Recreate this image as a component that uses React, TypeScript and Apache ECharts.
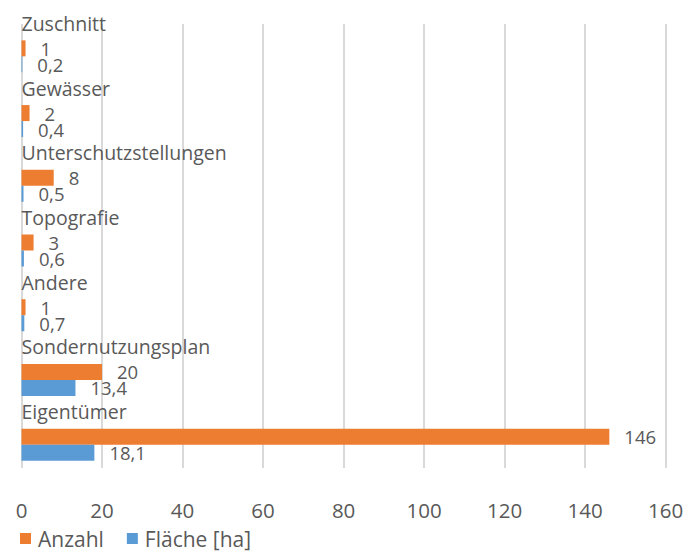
import React, { useEffect, useRef } from "react";
import * as echarts from "echarts";

const categories = [
  "Zuschnitt",
  "Gewässer",
  "Unterschutzstellungen",
  "Topografie",
  "Andere",
  "Sondernutzungsplan",
  "Eigentümer",
];
const anzahl = [1, 2, 8, 3, 1, 20, 146];
const flaeche = [0.2, 0.4, 0.5, 0.6, 0.7, 13.4, 18.1];
const xTicks = { min: 0, max: 160, interval: 20 };

const FONT = "'Open Sans', 'Noto Sans', sans-serif";
const TEXT = "#595959";
const ORANGE = "#ED7D31";
const BLUE = "#5B9BD5";

const fmt = (v: number) => String(v).replace(".", ",");

export default function App() {
  const ref = useRef<HTMLDivElement>(null);

  useEffect(() => {
    if (!ref.current) return;
    const chart = echarts.init(ref.current, undefined, { renderer: "svg" });

    const valueLabel = {
      show: true,
      position: "right" as const,
      distance: 15,
      color: TEXT,
      fontFamily: FONT,
      fontSize: 18.5,
      formatter: (p: any) => fmt(p.value),
    };

    chart.setOption({
      animation: false,
      backgroundColor: "#ffffff",
      textStyle: { fontFamily: FONT },
      grid: [
        // bars
        {
          left: 21.5,
          right: 24.3,
          top: 24,
          height: 453,
          containLabel: false,
          outerBoundsMode: "none",
        },
        // gridlines and tick labels
        {
          left: 21.5,
          right: 24.3,
          top: 24,
          height: 444,
          containLabel: false,
          outerBoundsMode: "none",
        },
      ],
      xAxis: [
        {
          type: "value",
          gridIndex: 0,
          ...xTicks,
          show: false,
          splitLine: { show: false },
        },
        {
          type: "value",
          gridIndex: 1,
          ...xTicks,
          axisLine: { show: false },
          axisTick: { show: false },
          splitLine: { show: true, lineStyle: { color: "#D9D9D9", width: 2 } },
          axisLabel: {
            color: TEXT,
            fontFamily: FONT,
            fontSize: 20.5,
            margin: 31,
          },
        },
      ],
      yAxis: [
        {
          type: "category",
          gridIndex: 0,
          data: categories,
          inverse: true,
          axisLine: { show: false },
          axisTick: { show: false },
          splitLine: { show: false },
          axisLabel: {
            inside: true,
            interval: 0,
            showMinLabel: true,
            showMaxLabel: true,
            hideOverlap: false,
            margin: 0,
            color: TEXT,
            fontFamily: FONT,
            fontSize: 19.5,
            verticalAlign: "bottom",
            lineHeight: 66,
          },
          z: 5,
        },
        {
          type: "category",
          gridIndex: 1,
          data: categories,
          show: false,
        },
      ],
      legend: {
        data: ["Anzahl", "Fläche [ha]"],
        left: 15,
        top: 523,
        icon: "rect",
        itemWidth: 11,
        itemHeight: 11,
        itemGap: 23,
        textStyle: {
          color: TEXT,
          fontFamily: FONT,
          fontSize: 21,
          lineHeight: 21,
          padding: [0, 0, 0, 2],
        },
      },
      series: [
        {
          name: "Anzahl",
          type: "bar",
          xAxisIndex: 0,
          yAxisIndex: 0,
          data: anzahl,
          barWidth: 16,
          barGap: "0%",
          itemStyle: { color: ORANGE },
          label: valueLabel,
        },
        {
          name: "Fläche [ha]",
          type: "bar",
          xAxisIndex: 0,
          yAxisIndex: 0,
          data: flaeche,
          barWidth: 16,
          barGap: "0%",
          itemStyle: { color: BLUE },
          label: valueLabel,
        },
      ],
    });

    return () => chart.dispose();
  }, []);

  return (
    <div
      ref={ref}
      style={{ position: "fixed", left: 0, top: 0, width: 690, height: 552 }}
    />
  );
}
